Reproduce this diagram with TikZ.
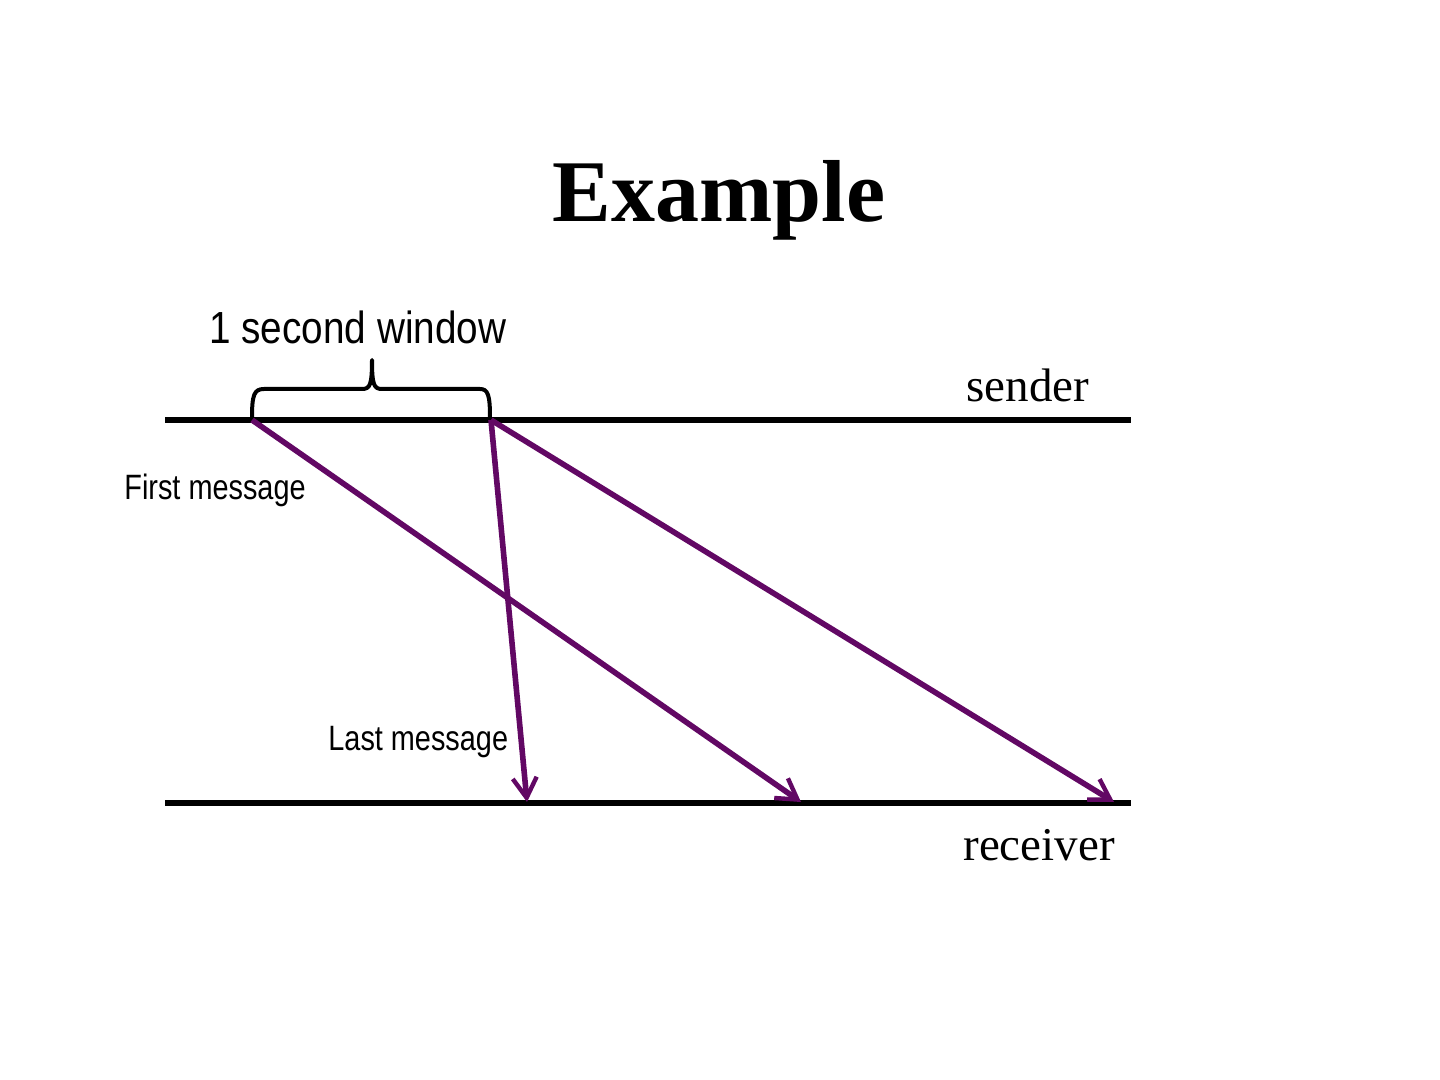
\documentclass[tikz,border=0pt]{standalone}
\usepackage{fontspec}
\setmainfont{Liberation Serif}
\newfontfamily\narrowsans[FakeStretch=0.82]{Liberation Sans}
\newfontfamily\windowsans[FakeStretch=0.86]{Liberation Sans}
\usetikzlibrary{arrows.meta}
\definecolor{msgpurple}{RGB}{98,8,100}
\tikzset{
  timeline/.style={line width=2.6pt, black},
  msg/.style={line width=2.8pt, msgpurple, -{Straight Barb[length=10pt,width=12pt,line width=2.2pt]}},
  lbl/.style={inner sep=0pt, anchor=base west},
  bracestyle/.style={line width=2pt, black, line join=round}
}
\begin{document}
\begin{tikzpicture}[x=0.5pt,y=-0.5pt]
\useasboundingbox (0,0) rectangle (1440,1080);
% title
\node[inner sep=0pt, anchor=base] (title) at (719,222) {\fontsize{44pt}{50pt}\selectfont\bfseries Example};
% timelines
\coordinate (sL) at (165,420);
\coordinate (sR) at (1131,420);
\coordinate (rL) at (165,803);
\coordinate (rR) at (1131,803);
\draw[timeline] (sL) -- (sR);
\draw[timeline] (rL) -- (rR);
\node[lbl] (sender) at (966,402) {\fontsize{23.5pt}{28pt}\selectfont sender};
\node[lbl] (receiver) at (963,860) {\fontsize{23.5pt}{28pt}\selectfont receiver};
% send / receive points
\coordinate (s1) at (252,420);
\coordinate (s2) at (491,420);
\coordinate (r1) at (527,802);
\coordinate (r2) at (801,802);
\coordinate (r3) at (1114,802);
% messages
\draw[msg] (s1) -- (r2);
\draw[msg] (s2) -- (r1);
\draw[msg] (s2) -- (r3);
% brace
\coordinate (bL) at (252,418);
\coordinate (bR) at (490,418);
\coordinate (bT) at (372,360);
\draw[bracestyle] (bL) .. controls (252,395) and (254,389) .. (264,389) -- (362,389)
  .. controls (370,389) and (372,385) .. (bT)
  .. controls (372,385) and (374,389) .. (382,389) -- (480,389)
  .. controls (488,389) and (490,395) .. (bR);
% labels
\node[lbl] (window) at (209,344) {\windowsans\fontsize{22.5pt}{26pt}\selectfont 1 second window};
\node[lbl] (first) at (124,499) {\narrowsans\fontsize{17.6pt}{20pt}\selectfont First message};
\node[lbl] (last) at (328,750) {\narrowsans\fontsize{17.6pt}{20pt}\selectfont Last message};
\end{tikzpicture}
\end{document}
